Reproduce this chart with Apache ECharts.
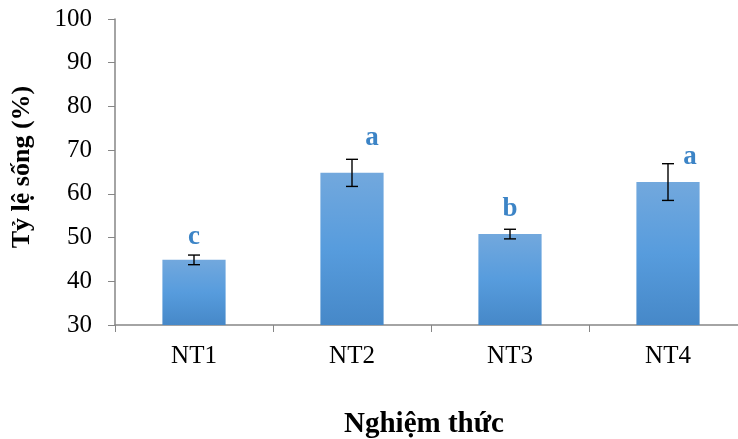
<!DOCTYPE html>
<html>
<head>
<meta charset="utf-8">
<script src="https://cdn.jsdelivr.net/npm/echarts@6/dist/echarts.min.js"></script>
<style>
  html, body { margin: 0; padding: 0; background: #fff; }
  #box { width: 738px; height: 439px; }
</style>
</head>
<body>
<div id="box"></div>
<script>
// dữ liệu
const categories = ["NT1", "NT2", "NT3", "NT4"];
const means = [44.9, 64.8, 50.8, 62.7];
const errors = [1.1, 3.1, 1.1, 4.2];
const letters = ["c", "a", "b", "a"];
const letterY = [50.1, 72.8, 56.5, 68.4];
const yTicks = [30, 40, 50, 60, 70, 80, 90, 100];

const font = "Liberation Serif";

let myChart = echarts.init(document.getElementById("box"));

// chữ cái dịch sang phải một chút ở NT2, NT4
const letterOffsets = [0, 20, 0, 22];

myChart.setOption({
  animation: false,
  grid: {
    left: 115,
    top: 19,
    width: 632,
    height: 306,
    containLabel: false,
    outerBoundsMode: "none",
  },
  xAxis: {
    type: "category",
    data: categories,
    name: "Nghiệm thức",
    nameLocation: "middle",
    nameGap: 85,
    nameTextStyle: { fontFamily: font, fontSize: 29, fontWeight: "bold", color: "#000", padding: [0, 14, 0, 0] },
    axisLine: { lineStyle: { color: "#868686", width: 1.5 } },
    axisTick: { show: true, length: 7, lineStyle: { color: "#868686" } },
    axisLabel: { fontFamily: font, fontSize: 25, color: "#000", margin: 19 },
  },
  yAxis: {
    type: "value",
    min: yTicks[0],
    max: yTicks[yTicks.length - 1],
    interval: 10,
    name: "Tỷ lệ sống (%)",
    nameLocation: "middle",
    nameRotate: 90,
    nameGap: 80,
    nameTextStyle: { fontFamily: font, fontSize: 26, fontWeight: "bold", color: "#000", padding: [0, 0, 0, 10] },
    axisLine: { show: true, lineStyle: { color: "#868686", width: 1.5 } },
    axisTick: { show: true, length: 7, lineStyle: { color: "#868686" } },
    axisLabel: { fontFamily: font, fontSize: 25, color: "#000", margin: 23 },
    splitLine: { show: false },
  },
  series: [
    {
      type: "bar",
      data: means,
      barWidth: "40%",
      itemStyle: {
        color: new echarts.graphic.LinearGradient(0, 0, 0, 1, [
          { offset: 0, color: "#72a8dd" },
          { offset: 0.5, color: "#579cdd" },
          { offset: 1, color: "#4688c8" },
        ]),
      },
    },
    {
      // thanh sai số
      type: "custom",
      data: means.map((m, i) => [i, m - errors[i], m + errors[i]]),
      renderItem: function (params, api) {
        const lo = api.coord([api.value(0), api.value(1)]);
        const hi = api.coord([api.value(0), api.value(2)]);
        const half = 6;
        const style = { stroke: "#000", lineWidth: 1.4 };
        return {
          type: "group",
          children: [
            { type: "line", shape: { x1: lo[0], y1: lo[1], x2: hi[0], y2: hi[1] }, style: style },
            { type: "line", shape: { x1: lo[0] - half, y1: lo[1], x2: lo[0] + half, y2: lo[1] }, style: style },
            { type: "line", shape: { x1: hi[0] - half, y1: hi[1], x2: hi[0] + half, y2: hi[1] }, style: style },
          ],
        };
      },
      z: 5,
    },
    {
      // chữ cái thống kê
      type: "scatter",
      symbolSize: 0,
      data: letterY.map((y, i) => ({
        value: [i, y],
        label: {
          show: true,
          position: "inside",
          formatter: letters[i],
          offset: [letterOffsets[i], 0],
          fontFamily: font,
          fontSize: 27,
          fontWeight: "bold",
          color: "#0b65b8",
        },
      })),
      z: 6,
    },
  ],
});
</script>
</body>
</html>
